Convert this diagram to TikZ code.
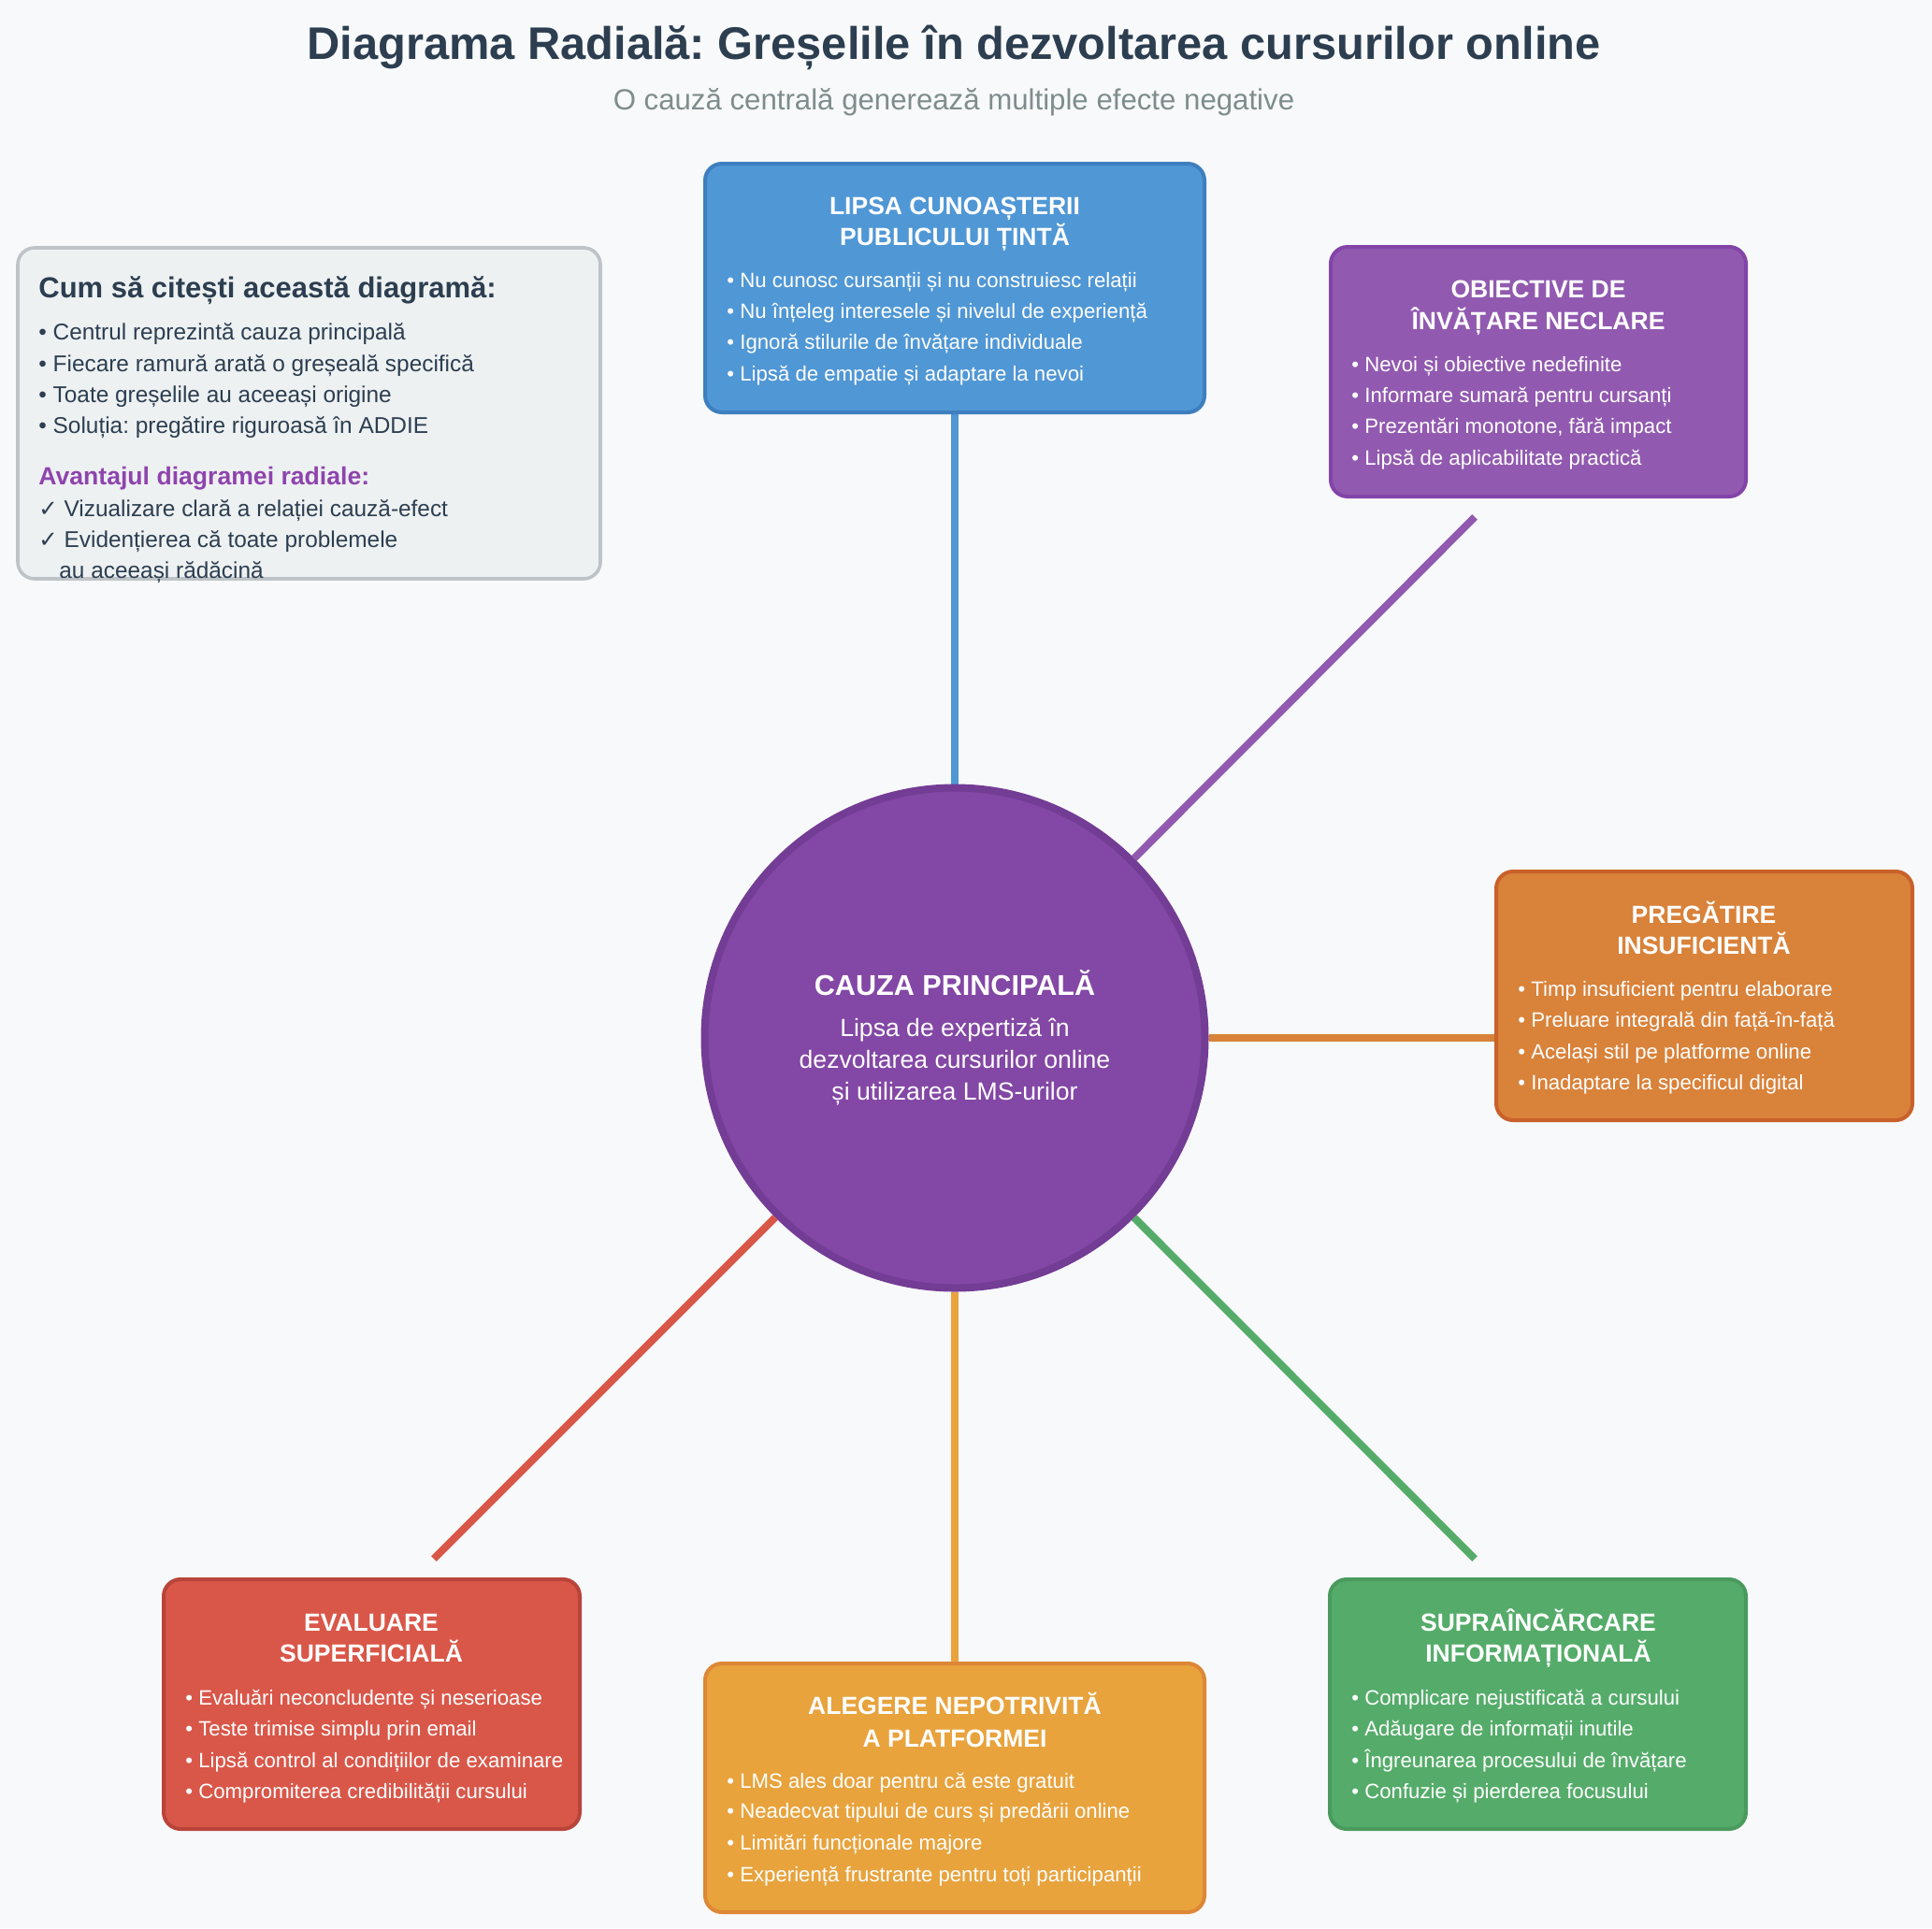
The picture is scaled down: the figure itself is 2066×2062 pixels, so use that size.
\documentclass[tikz,border=0pt]{standalone}
\usepackage{fontspec}
\setmainfont{Liberation Sans}
\newfontfamily\symfont{DejaVu Sans}
\frenchspacing
\pgfdeclarelayer{back}
\pgfdeclarelayer{lines}
\pgfsetlayers{back,lines,main}
\definecolor{bgc}{HTML}{F8F9FA}
\definecolor{titc}{HTML}{2C3E50}
\definecolor{subc}{HTML}{7F8C8D}
\definecolor{legf}{HTML}{EEF1F2}
\definecolor{legd}{HTML}{BDC3C7}
\definecolor{purt}{HTML}{8E44AD}
\definecolor{bluef}{HTML}{5097D5}
\definecolor{blued}{HTML}{3D7FBF}
\definecolor{purf}{HTML}{915AB0}
\definecolor{purd}{HTML}{8344A8}
\definecolor{oraf}{HTML}{D9823A}
\definecolor{orad}{HTML}{C9612B}
\definecolor{redf}{HTML}{D95749}
\definecolor{redd}{HTML}{B8443A}
\definecolor{yelf}{HTML}{E8A33D}
\definecolor{yeld}{HTML}{DE8736}
\definecolor{grnf}{HTML}{55AC6A}
\definecolor{grnd}{HTML}{4A9A5E}
\definecolor{cirf}{HTML}{8347A5}
\definecolor{cird}{HTML}{733C95}
\tikzset{
  x=0.5pt, y=-0.5pt,
  cbox/.style={rounded corners=9pt, line width=2pt, inner sep=0pt},
  btitle/.style={font=\fontsize{13.25}{16}\selectfont\bfseries, text=white, anchor=base, inner sep=0pt},
  bitem/.style={font=\fontsize{11.1}{13}\selectfont, text=white, anchor=base west, inner sep=0pt},
  conn/.style={line width=4pt},
  legitem/.style={font=\fontsize{12.2}{14}\selectfont, text=titc, anchor=base west, inner sep=0pt},
}
\begin{document}
\begin{tikzpicture}
\useasboundingbox (0,0) rectangle (2066,2062);
\begin{pgfonlayer}{back}
\fill[bgc] (0,0) rectangle (2066,2062);
\end{pgfonlayer}

% title
\node[anchor=base, inner sep=0pt, text=titc, font=\fontsize{24.4}{28}\selectfont\bfseries] (title) at (1020,63) {Diagrama Radială: Greșelile în dezvoltarea cursurilor online};
\node[anchor=base, inner sep=0pt, text=subc, font=\fontsize{15.6}{18}\selectfont] (subtitle) at (1020,117) {O cauză centrală generează multiple efecte negative};

% legend
\node[cbox, fill=legf, draw=legd, line width=1.8pt, minimum width=311.5pt, minimum height=177pt] (leg) at (330.5,442) {};
\node[anchor=base west, inner sep=0pt, text=titc, font=\fontsize{15.5}{18}\selectfont\bfseries] (legh) at (41,318) {Cum să citești această diagramă:};
\node[legitem] (l1) at (41,363) {• Centrul reprezintă cauza principală};
\node[legitem] (l2) at (41,397) {• Fiecare ramură arată o greșeală specifică};
\node[legitem] (l3) at (41,430) {• Toate greșelile au aceeași origine};
\node[legitem] (l4) at (41,463) {• Soluția: pregătire riguroasă în ADDIE};
\node[anchor=base west, inner sep=0pt, text=purt, font=\fontsize{13.3}{16}\selectfont\bfseries] (legh2) at (41,518) {Avantajul diagramei radiale:};
\node[legitem] (l5) at (41,552) {{\symfont ✓} Vizualizare clară a relației cauză-efect};
\node[legitem] (l6) at (41,585) {{\symfont ✓} Evidențierea că toate problemele};
\node[legitem] (l7) at (63,618) {au aceeași rădăcină};

% center circle
\node[circle, fill=cirf, draw=cird, line width=4pt, minimum size=267.5pt, inner sep=0pt] (c) at (1021,1110) {};
\node[anchor=base, inner sep=0pt, text=white, font=\fontsize{15.3}{18}\selectfont\bfseries] (ct) at (1021,1064) {CAUZA PRINCIPALĂ};
\node[anchor=base, inner sep=0pt, text=white, font=\fontsize{13.3}{16}\selectfont] (cb1) at (1021,1108) {Lipsa de expertiză în};
\node[anchor=base, inner sep=0pt, text=white, font=\fontsize{13.3}{16}\selectfont] (cb2) at (1021,1142) {dezvoltarea cursurilor online};
\node[anchor=base, inner sep=0pt, text=white, font=\fontsize{13.3}{16}\selectfont] (cb3) at (1021,1176) {și utilizarea LMS-urilor};

% box 1 blue
\node[cbox, fill=bluef, draw=blued, minimum width=267pt, minimum height=133pt] (b1) at (1021,308) {};
\node[btitle] (b1t1) at (1021,229) {LIPSA CUNOAȘTERII};
\node[btitle] (b1t2) at (1021,262) {PUBLICULUI ȚINTĂ};
\node[bitem] (b1a) at (777,307) {• Nu cunosc cursanții și nu construiesc relații};
\node[bitem] (b1b) at (777,340) {• Nu înțeleg interesele și nivelul de experiență};
\node[bitem] (b1c) at (777,373) {• Ignoră stilurile de învățare individuale};
\node[bitem] (b1d) at (777,407) {• Lipsă de empatie și adaptare la nevoi};

% box 2 purple
\node[cbox, fill=purf, draw=purd, minimum width=222pt, minimum height=133.5pt] (b2) at (1645,397.5) {};
\node[btitle] (b2t1) at (1645,318) {OBIECTIVE DE};
\node[btitle] (b2t2) at (1645,352) {ÎNVĂȚARE NECLARE};
\node[bitem] (b2a) at (1445,397) {• Nevoi și obiective nedefinite};
\node[bitem] (b2b) at (1445,430) {• Informare sumară pentru cursanți};
\node[bitem] (b2c) at (1445,463) {• Prezentări monotone, fără impact};
\node[bitem] (b2d) at (1445,497) {• Lipsă de aplicabilitate practică};

% box 3 orange
\node[cbox, fill=oraf, draw=orad, minimum width=222.5pt, minimum height=133pt] (b3) at (1822.5,1065) {};
\node[btitle] (b3t1) at (1822,987) {PREGĂTIRE};
\node[btitle] (b3t2) at (1822,1020) {INSUFICIENTĂ};
\node[bitem] (b3a) at (1623,1065) {• Timp insuficient pentru elaborare};
\node[bitem] (b3b) at (1623,1098) {• Preluare integrală din față-în-față};
\node[bitem] (b3c) at (1623,1132) {• Același stil pe platforme online};
\node[bitem] (b3d) at (1623,1165) {• Inadaptare la specificul digital};

% box 4 green
\node[cbox, fill=grnf, draw=grnd, minimum width=222.5pt, minimum height=133.5pt] (b4) at (1644.5,1822.5) {};
\node[btitle] (b4t1) at (1645,1744) {SUPRAÎNCĂRCARE};
\node[btitle] (b4t2) at (1645,1777) {INFORMAȚIONALĂ};
\node[bitem] (b4a) at (1445,1823) {• Complicare nejustificată a cursului};
\node[bitem] (b4b) at (1445,1856) {• Adăugare de informații inutile};
\node[bitem] (b4c) at (1445,1890) {• Îngreunarea procesului de învățare};
\node[bitem] (b4d) at (1445,1923) {• Confuzie și pierderea focusului};

% box 5 yellow-orange
\node[cbox, fill=yelf, draw=yeld, minimum width=267pt, minimum height=133pt] (b5) at (1021,1912) {};
\node[btitle] (b5t1) at (1021,1833) {ALEGERE NEPOTRIVITĂ};
\node[btitle] (b5t2) at (1021,1868) {A PLATFORMEI};
\node[bitem] (b5a) at (777,1912) {• LMS ales doar pentru că este gratuit};
\node[bitem] (b5b) at (777,1944) {• Neadecvat tipului de curs și predării online};
\node[bitem] (b5c) at (777,1978) {• Limitări funcționale majore};
\node[bitem] (b5d) at (777,2012) {• Experiență frustrante pentru toți participanții};

% box 6 red
\node[cbox, fill=redf, draw=redd, minimum width=222.5pt, minimum height=133.5pt] (b6) at (397.5,1822.5) {};
\node[btitle] (b6t1) at (397,1744) {EVALUARE};
\node[btitle] (b6t2) at (397,1777) {SUPERFICIALĂ};
\node[bitem] (b6a) at (198,1823) {• Evaluări neconcludente și neserioase};
\node[bitem] (b6b) at (198,1856) {• Teste trimise simplu prin email};
\node[bitem] (b6c) at (198,1890) {• Lipsă control al condițiilor de examinare};
\node[bitem] (b6d) at (198,1923) {• Compromiterea credibilității cursului};

% free ends of diagonal connectors
\coordinate (e2) at (1577,553);
\coordinate (e4) at (1577,1667);
\coordinate (e6) at (464,1667);

\begin{pgfonlayer}{lines}
\draw[conn, bluef] (c) -- (b1);
\draw[conn, purf] (c) -- (e2);
\draw[conn, oraf] (c.east) -- (c.east -| b3.west);
\draw[conn, grnf] (c) -- (e4);
\draw[conn, yelf] (c) -- (b5);
\draw[conn, redf] (c) -- (e6);
\end{pgfonlayer}
\end{tikzpicture}
\end{document}
